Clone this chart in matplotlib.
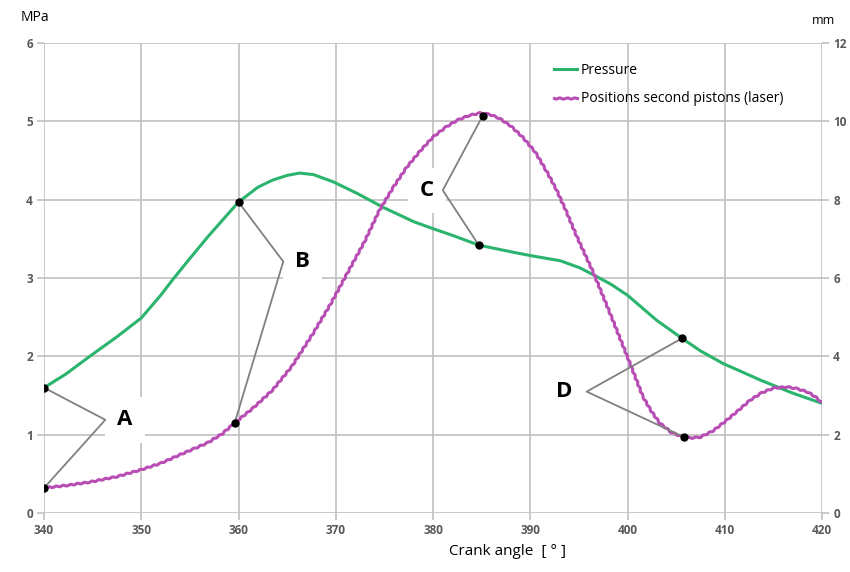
import matplotlib.pyplot as plt
import numpy as np

plt.rcParams['font.family'] = ['Open Sans', 'DejaVu Sans']

# pressure in the cylinder, MPa
p_angle = [340, 342.2, 344.7, 347.5, 350, 352, 353.3, 355, 356.8, 358.5, 360, 362, 363.5, 365,
           366.3, 367.7, 369.7, 372.2, 374.9, 378, 380, 382.1, 384.7, 388.2, 390.3, 393.1,
           395.1, 396.5, 398.3, 400, 401.5, 403, 405.6, 407.5, 409.8, 411.8, 413.6, 417, 420]
pressure = [1.60, 1.77, 2.00, 2.25, 2.49, 2.78, 2.99, 3.25, 3.52, 3.76, 3.97, 4.16, 4.25, 4.31,
            4.34, 4.32, 4.23, 4.08, 3.90, 3.72, 3.63, 3.54, 3.42, 3.33, 3.28, 3.22,
            3.13, 3.04, 2.92, 2.78, 2.62, 2.46, 2.23, 2.07, 1.91, 1.80, 1.70, 1.53, 1.40]

# second piston position from the laser, mm
x_angle = [340, 342.5, 344.7, 347.5, 349.9, 352, 353.9, 355.5, 356.8, 358.3, 359.6, 361.5, 363.5,
           365.5, 367.7, 369.5, 371.2, 373, 374.5, 376, 377.3, 378.7, 380, 381.3, 382.5, 383.7,
           384.8, 385.8, 386.8, 388, 389.2, 390.5, 391.6, 392.7, 393.7, 394.8, 396.5, 398.2,
           400, 401.6, 402.5, 403.3, 404.5, 405.7, 406.6, 407.5, 408.8, 410.2, 411.4, 412.6,
           413.8, 415, 416.4, 417.5, 418.5, 419.3, 420]
position = [0.64, 0.71, 0.79, 0.93, 1.10, 1.27, 1.48, 1.65, 1.79, 2.02, 2.30, 2.68, 3.14,
            3.75, 4.60, 5.35, 6.13, 6.95, 7.74, 8.35, 8.83, 9.25, 9.60, 9.85, 10.03, 10.15,
            10.21, 10.18, 10.08, 9.88, 9.60, 9.22, 8.76, 8.25, 7.70, 7.05, 6.13, 5.10,
            3.98, 2.96, 2.58, 2.30, 2.06, 1.94, 1.92, 1.94, 2.10, 2.37, 2.62, 2.88,
            3.07, 3.19, 3.22, 3.17, 3.09, 2.97, 2.81]

# marked points: label, label position (deg, MPa), pressure point, position point
labels = ['A', 'B', 'C', 'D']
label_xy = [(346.3, 1.19), (364.6, 3.21), (381.0, 4.12), (395.8, 1.55)]
label_off = [2.0, 2.0, -1.6, -2.3]
p_marks = [(340, 1.60), (360, 3.97), (384.7, 3.42), (405.6, 2.23)]
x_marks = [(340, 0.64), (359.6, 2.30), (385.1, 10.14), (405.8, 1.94)]

green = '#2bb46e'
magenta = '#b84db4'
grey = '#808080'

fig = plt.figure(figsize=(8.5, 5.72), dpi=100)
ax = fig.add_axes([0.0518, 0.1031, 0.9153, 0.8217])
ax2 = ax.twinx()

ax.set_xlim(340, 420)
ax.set_ylim(0, 6)
ax2.set_ylim(0, 12)
ax.set_xticks(np.arange(340, 421, 10))
ax.set_yticks(np.arange(0, 7, 1))
ax2.set_yticks(np.arange(0, 13, 2))

ax.grid(True, color='#c0c0c0', linewidth=1.2)
ax.set_axisbelow(True)
for a in (ax, ax2):
    for s in a.spines.values():
        s.set_visible(False)
    a.tick_params(length=5, width=1.2, color='#c0c0c0', labelsize=8.5,
                  labelcolor='#595959', pad=3)
for lab in ax.get_xticklabels() + ax.get_yticklabels() + ax2.get_yticklabels():
    lab.set_fontweight('bold')

ax.plot(p_angle, pressure, color=green, lw=2.2, label='Pressure', zorder=3)
pos_line, = ax2.plot(x_angle, position, color=magenta, lw=2.2,
                     label='Positions second pistons (laser)', zorder=3)
# slight ripple on the laser trace
pos_line.set_sketch_params(scale=0.6, length=7, randomness=1)

for lab, (vx, vy), off, (px, py), (qx, qy) in zip(labels, label_xy, label_off, p_marks, x_marks):
    ax.text(vx + off, vy, lab, fontsize=16, fontweight='bold', ha='center', va='center',
            zorder=2, bbox=dict(facecolor='white', edgecolor='none', boxstyle='square,pad=0.55'))
    ax2.plot([px, vx, qx], [py * 2, vy * 2, qy], color=grey, lw=1.3, zorder=4)
    ax2.plot([px, qx], [py * 2, qy], 'o', color='black', ms=5, zorder=5)

h1, l1 = ax.get_legend_handles_labels()
h2, l2 = ax2.get_legend_handles_labels()
ax2.legend(h1 + h2, l1 + l2, loc='upper left', bbox_to_anchor=(0.64, 0.985), frameon=False,
           fontsize=10, handlelength=1.6, handletextpad=0.3, labelspacing=1.0)

fig.text(0.024, 0.97, 'MPa', fontsize=10, va='center', ha='left')
fig.text(0.955, 0.965, 'mm', fontsize=9, va='center', ha='left')
fig.text(0.597, 0.035, 'Crank angle  [ ° ]', fontsize=11, ha='center', va='center')

fig.savefig('out.png', dpi=100)
